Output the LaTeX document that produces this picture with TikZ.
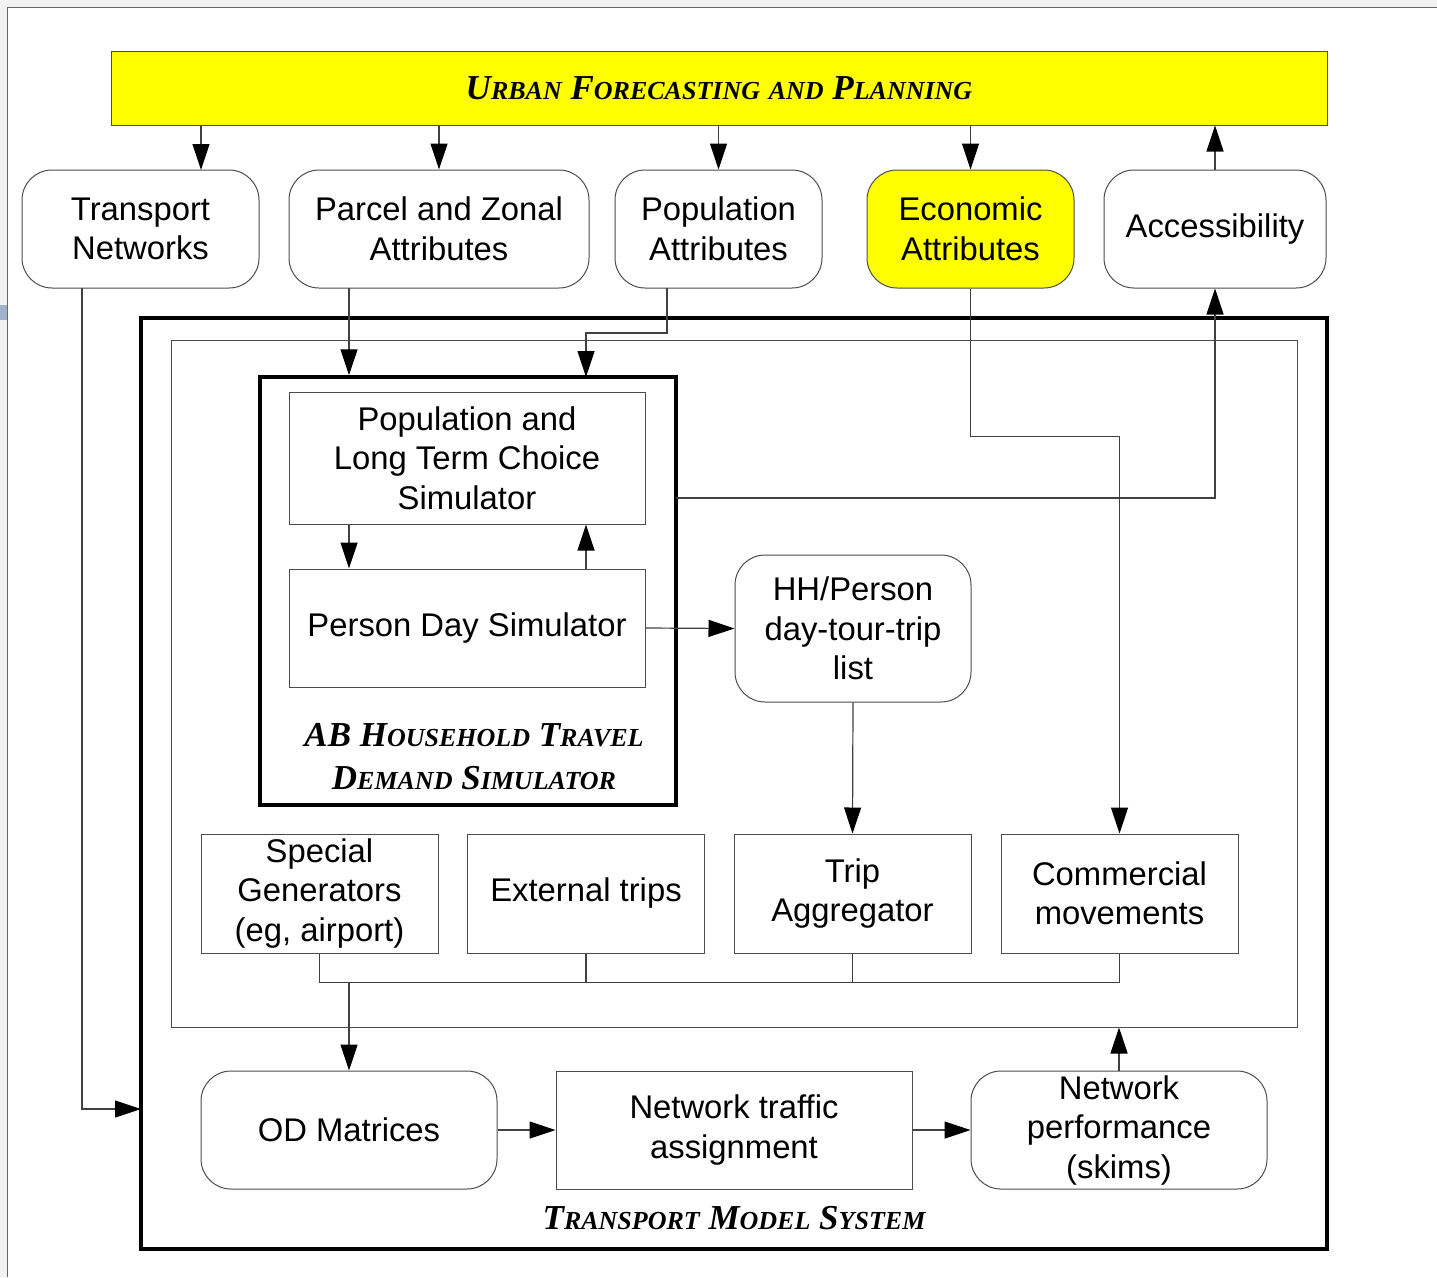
\documentclass[tikz,border=0pt]{standalone}
\usepackage{fontspec}
\setmainfont{Liberation Sans}
\newfontfamily\capsfont{Liberation Serif}
\usepackage{tikz}
\usetikzlibrary{arrows.meta}

\definecolor{frameblue}{HTML}{9FB4CC}
\definecolor{hiyellow}{HTML}{FFFF00}
\newcommand{\boxfont}{\fontsize{32.8}{39.5}\selectfont}
\newcommand{\titlefont}{\capsfont\bfseries\itshape\fontsize{35}{43}\selectfont}
\newcommand{\capword}[2]{{\fontsize{35}{43}\selectfont #1}{\fontsize{26}{43}\selectfont #2}}

\tikzset{
  box/.style={draw=black!70, line width=1pt, align=center, font=\boxfont, inner sep=0pt},
  rbox/.style={box, rounded corners=30pt},
  conn/.style={draw=black!75, line width=1.2pt},
  arr/.style={conn, -{Triangle[length=26pt,width=17pt,black]}},
  caption/.style={align=center, font=\titlefont, inner sep=0pt},
}

\begin{document}
\begin{tikzpicture}[x=1pt, y=-1pt]
    \useasboundingbox (0,0) rectangle (1437,1277);

    % Page frame
    \fill[black!5] (0,0) rectangle (1437,7);
    \fill[black!5] (0,0) rectangle (7,1277);
    \fill[frameblue] (0,305) rectangle (7,320);
    \draw[black!60, line width=1pt] (7,1277) -- (7,7) -- (1437,7);

    % Urban forecasting
    \node[box, fill=hiyellow, minimum width=1216pt, minimum height=74pt, font=\titlefont] (ufp) at (719,88)
        {\capword{U}{RBAN} \capword{F}{ORECASTING} \capword{}{AND} \capword{P}{LANNING}};

    % Top row
    \node[rbox, minimum width=237pt, minimum height=118pt] (tn) at (140.5,229) {Transport\\Networks};
    \node[rbox, minimum width=300pt, minimum height=118pt] (pza) at (439,229) {Parcel and Zonal\\Attributes};
    \node[rbox, minimum width=207pt, minimum height=118pt] (pa) at (718.5,229) {Population\\Attributes};
    \node[rbox, fill=hiyellow, minimum width=207pt, minimum height=118pt] (ea) at (970.5,229) {Economic\\Attributes};
    \node[rbox, minimum width=222pt, minimum height=118pt] (acc) at (1215,229) {Accessibility};

    % Transport model system
    \node[draw, line width=4pt, minimum width=1186pt, minimum height=931pt] (tms) at (734,783.5) {};
    \node[draw=black!70, line width=1pt, minimum width=1126pt, minimum height=687pt] (inner) at (734,683.5) {};
    \node[caption] (tmsl) at (734,1218) {\capword{T}{RANSPORT} \capword{M}{ODEL} \capword{S}{YSTEM}};

    % AB household travel demand simulator
    \node[draw, line width=3.5pt, minimum width=416pt, minimum height=428pt] (ab) at (468,591) {};
    \node[box, minimum width=356pt, minimum height=132pt] (plt) at (467,458) {Population and\\Long Term Choice\\Simulator};
    \node[box, minimum width=356pt, minimum height=118pt] (pds) at (467,628) {Person Day Simulator};
    \node[caption] (abl) at (474,757) {\capword{AB H}{OUSEHOLD} \capword{T}{RAVEL}\\\capword{D}{EMAND} \capword{S}{IMULATOR}};
    \node[rbox, minimum width=236pt, minimum height=147pt] (hh) at (853,628.5) {HH/Person\\day-tour-trip\\list};

    % Trip sources
    \node[box, minimum width=237pt, minimum height=119pt] (sg) at (319.5,893.5) {Special\\Generators\\(eg, airport)};
    \node[box, minimum width=237pt, minimum height=119pt] (et) at (586,893.5) {External trips};
    \node[box, minimum width=237pt, minimum height=119pt] (ta) at (852.5,893.5) {Trip\\Aggregator};
    \node[box, minimum width=237pt, minimum height=119pt] (cm) at (1119.5,893.5) {Commercial\\movements};

    % Bottom row
    \node[rbox, minimum width=296pt, minimum height=118pt] (od) at (349,1130) {OD Matrices};
    \node[box, minimum width=356pt, minimum height=118pt] (nta) at (734,1130) {Network traffic\\assignment};
    \node[rbox, minimum width=296pt, minimum height=118pt] (np) at (1119,1130) {Network\\performance\\(skims)};

    % Connector ends
    \coordinate (tnin) at (201,170);
    \coordinate (tnout) at (82,288);
    \coordinate (tmsin) at (141,1109);
    \coordinate (pzaout) at (349,288);
    \coordinate (paout) at (667,288);
    \coordinate (abin) at (586,377);
    \coordinate (about) at (676,498);

    % Arrows from and to the top
    \draw[arr] (tnin |- ufp.south) -- (tnin);
    \draw[arr] (pza.north |- ufp.south) -- (pza.north);
    \draw[arr] (pa.north |- ufp.south) -- (pa.north);
    \draw[arr] (ea.north |- ufp.south) -- (ea.north);
    \draw[arr] (acc.north) -- (acc.north |- ufp.south);

    % Inputs to the model system
    \draw[arr] (tnout) |- (tmsin);
    \draw[arr] (pzaout) -- (pzaout |- ab.north);
    \draw[arr] (paout) -- ++(0,45) -| (abin);
    \draw[arr] (ea.south) -- ++(0,148) -| (cm.north);
    \draw[arr] (about) -| (acc.south);

    % Inside the simulator
    \draw[arr] (plt.south -| pzaout) -- (pds.north -| pzaout);
    \draw[arr] (pds.north -| abin) -- (plt.south -| abin);
    \draw[arr] (pds.east) -- (hh.west);
    \draw[arr] (hh.south) -- (ta.north);

    % Collecting trips
    \draw[conn] (sg.south) -- ++(0,29) coordinate (busl) -| (cm.south);
    \draw[conn] (et.south) -- (et.south |- busl);
    \draw[conn] (ta.south) -- (ta.south |- busl);
    \draw[arr] (busl -| od.north) -- (od.north);

    % Assignment
    \draw[arr] (od.east) -- (nta.west);
    \draw[arr] (nta.east) -- (np.west);
    \draw[arr] (np.north) -- (np.north |- inner.south);
\end{tikzpicture}
\end{document}
